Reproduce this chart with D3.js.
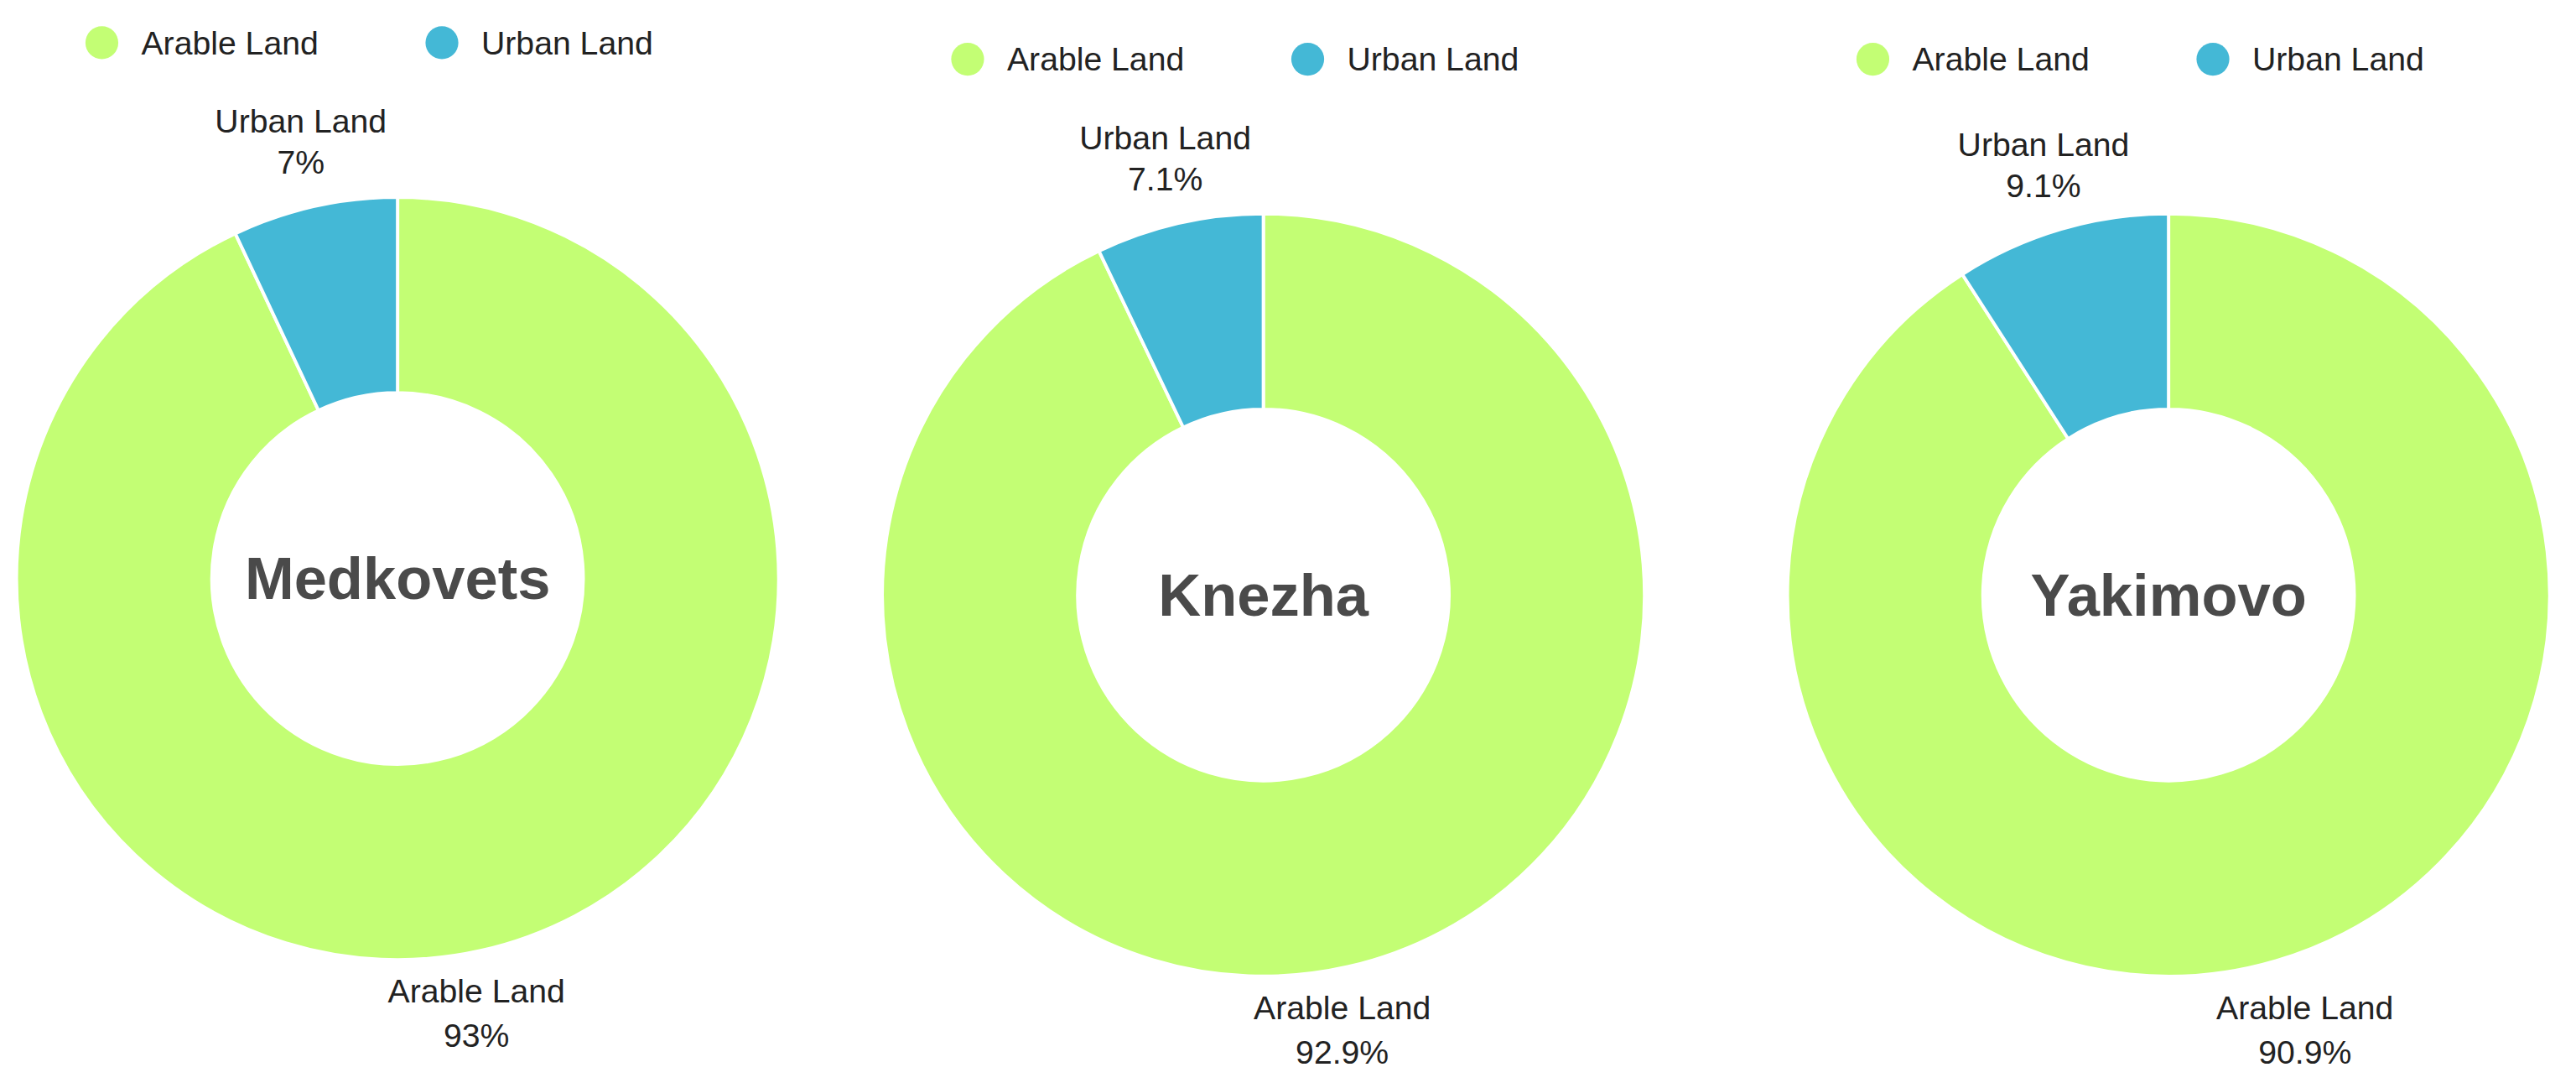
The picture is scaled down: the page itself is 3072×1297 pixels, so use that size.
<!DOCTYPE html>
<html>
<head>
<meta charset="utf-8">
<script src="https://cdn.jsdelivr.net/npm/d3@7"></script>
<style>
  html, body { margin: 0; padding: 0; background: #fff; }
  text { font-family: "Liberation Sans", "DejaVu Sans", sans-serif; }
</style>
</head>
<body>
<div id="chart"></div>
<script>
// --- data ---
const categories = ["Arable Land", "Urban Land"];
const towns = ["Medkovets", "Knezha", "Yakimovo"];
const arableValues = [93, 92.9, 90.9];
const urbanValues = [7, 7.1, 9.1];
const colors = ["#c3fe74", "#44b8d6"];

const W = 1568, H = 662;
const svg = d3.select("#chart").append("svg")
    .attr("width", 3072).attr("height", 1297)
    .attr("viewBox", `0 0 ${W} ${H}`);

// layout per donut
const centers = [[242, 352], [769, 362], [1320, 362]];
const legendX = [62, 589, 1140];
const legendY = [26, 36, 36];
const R = 232, r0 = 113;

const pie = d3.pie().sort(null).value(d => d);
const arc = d3.arc().innerRadius(r0).outerRadius(R);

towns.forEach((town, i) => {
    const vals = [arableValues[i], urbanValues[i]];
    const g = svg.append("g").attr("transform", `translate(${centers[i][0]},${centers[i][1]})`);
    const arcs = pie(vals);

    g.selectAll("path").data(arcs).enter().append("path")
        .attr("d", arc)
        .attr("fill", (d, j) => colors[j])
        .attr("stroke", "#fff").attr("stroke-width", 2);

    g.append("text").attr("text-anchor", "middle").attr("dy", "0.35em")
        .attr("font-size", 36).attr("font-weight", "bold").attr("fill", "#4a4a4a")
        .text(town);

    // urban label along slice mid angle
    const u = arcs[1];
    const a = (u.startAngle + u.endAngle) / 2;
    const lx = Math.sin(a) * (R + 38), ly = -Math.cos(a) * (R + 38);
    const ut = g.append("text").attr("text-anchor", "middle").attr("font-size", 20).attr("fill", "#222")
        .attr("transform", `translate(${lx},${ly - 8})`);
    ut.append("tspan").attr("x", 0).attr("dy", 0).text(categories[1]);
    ut.append("tspan").attr("x", 0).attr("dy", 25).text(urbanValues[i] + "%");

    // arable label below
    const at = g.append("text").attr("text-anchor", "middle").attr("font-size", 20).attr("fill", "#222")
        .attr("transform", `translate(${48 + (i === 2 ? 35 : 0)},${R + 26})`);
    at.append("tspan").attr("x", 0).attr("dy", 0).text(categories[0]);
    at.append("tspan").attr("x", 0).attr("dy", 27).text(arableValues[i] + "%");

    // legend
    const lg = svg.append("g").attr("transform", `translate(${legendX[i]},${legendY[i]})`);
    categories.forEach((c, j) => {
        const x = j * 207;
        lg.append("circle").attr("cx", x).attr("cy", 0).attr("r", 10).attr("fill", colors[j]);
        lg.append("text").attr("x", x + 24).attr("y", 0).attr("dy", "0.35em")
            .attr("font-size", 20).attr("fill", "#222").text(c);
    });
});
</script>
</body>
</html>
